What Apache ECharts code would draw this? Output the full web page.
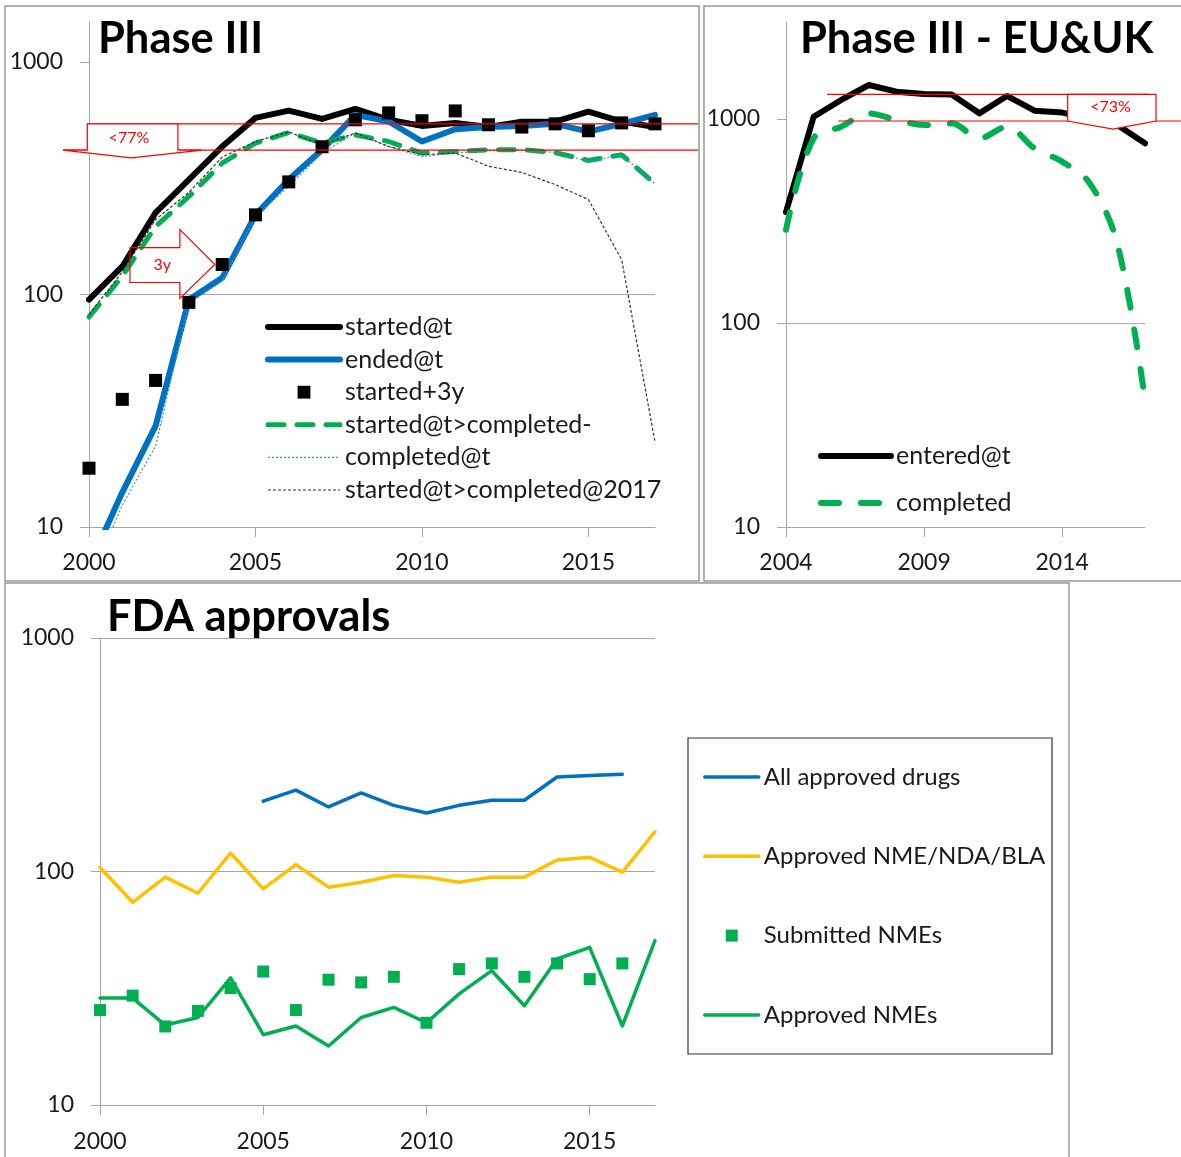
<!DOCTYPE html>
<html>
<head>
<meta charset="utf-8">
<script src="https://cdn.jsdelivr.net/npm/echarts@6/dist/echarts.min.js"></script>
<style>
  html, body { margin: 0; padding: 0; background: #fff; }
  #chart { width: 1181px; height: 1157px; }
</style>
</head>
<body>
<div id="chart"></div>
<script>
// ---- data: Phase III (all) ----
const years = [2000, 2001, 2002, 2003, 2004, 2005, 2006, 2007, 2008, 2009, 2010, 2011, 2012, 2013, 2014, 2015, 2016, 2017]
const startedAt = [95, 132, 225, 312, 433, 575, 618, 569, 628, 564, 531, 546, 525, 554, 554, 612, 554, 525]
const endedAt = [6.8, 14.1, 27.2, 95, 118, 220, 312, 419, 592, 555, 455, 514, 525, 531, 542, 502, 542, 592]
const startedPlus3y = [17.9, 35.4, 42.7, 92.5, 134.6, 220, 305, 432, 564, 604, 559, 616, 537, 525, 542, 506, 547, 542]
const startedCompleted = [80, 120, 196, 264, 367, 448, 497, 448, 486, 455, 406, 412, 419, 420, 408, 377, 399, 299]
const completedAt = [5.8, 12.4, 22.3, 92, 114, 217, 292, 406, 495, 433, 392, 406, 415, 418, 408, 373, 399, 299]
const completedBy2017 = [82, 125, 210, 275, 390, 455, 500, 440, 495, 433, 399, 406, 356, 335, 297, 256, 141, 23.2]

// ---- data: Phase III EU&UK ----
const euYears = [2004, 2005, 2006, 2007, 2008, 2009, 2010, 2011, 2012, 2013, 2014, 2015, 2016, 2017]
const euEntered = [350, 1026, 1240, 1468, 1361, 1325, 1320, 1066, 1297, 1099, 1075, 1010, 935, 760]
const euCompleted = [286, 804, 917, 1066, 989, 935, 952, 804, 917, 718, 618, 484, 244, 42]

// ---- data: FDA approvals ----
const allApproved = [null, null, null, null, null, 200, 223, 189, 217, 192, 178, 192, 202, 202, 254, 258, 261, null]
const approvedNdaBla = [104, 73.8, 94.6, 80.7, 120, 84.3, 107, 85.7, 90, 96.2, 94.6, 90, 94.6, 94.6, 112, 115, 99.3, 148]
const submittedNme = [25.5, 29.4, 21.7, 25.3, 31.7, 37.3, 25.5, 34.4, 33.5, 35.4, 22.5, 38.2, 40.4, 35.4, 40.4, 34.6, 40.4, null]
const approvedNme = [28.7, 28.7, 22, 23.7, 35, 20, 21.8, 17.9, 23.7, 26.2, 22.5, 29.9, 37.6, 26.6, 42.2, 47.3, 21.8, 50.6]

const logTicks = [10, 100, 1000]
const FONT = 'Lato, "Open Sans", sans-serif'
const GRID_COLOR = '#a6a6a6'
const RED = '#ff0000'

const pairs = (xs, ys) => xs.map((x, i) => [x, ys[i]])

function yLog(gridIndex, max, showMax) {
  return {
    type: 'log',
    logBase: 10,
    gridIndex,
    min: 10,
    max,
    axisLine: { show: true, lineStyle: { color: GRID_COLOR } },
    axisTick: { show: true, length: 9, customValues: logTicks, lineStyle: { color: GRID_COLOR } },
    axisLabel: {
      customValues: logTicks,
      formatter: v => String(Math.round(v)),
      color: '#1a1a1a',
      fontSize: 23,
      fontFamily: FONT,
      margin: 26
    },
    splitLine: {
      show: true,
      showMinLine: false,
      showMaxLine: showMax,
      lineStyle: { color: GRID_COLOR, width: 1 }
    }
  }
}

function xYears(gridIndex, min, max, ticks, margin) {
  return {
    type: 'value',
    gridIndex,
    min,
    max,
    axisLine: { show: true, onZero: false, lineStyle: { color: GRID_COLOR } },
    axisTick: { show: true, length: 10, customValues: ticks, lineStyle: { color: GRID_COLOR } },
    axisLabel: {
      customValues: ticks,
      formatter: v => String(v),
      color: '#1a1a1a',
      fontSize: 23,
      fontFamily: FONT,
      margin
    },
    splitLine: { show: false }
  }
}

function lineSeries(name, xi, yi, xs, ys, color, width, extra) {
  return Object.assign({
    name,
    type: 'line',
    xAxisIndex: xi,
    yAxisIndex: yi,
    data: pairs(xs, ys),
    symbol: 'none',
    itemStyle: { color, opacity: 0 },
    lineStyle: { color, width, cap: 'round', join: 'round' },
    emphasis: { disabled: true },
    animation: false
  }, extra || {})
}

function squareSeries(name, xi, yi, xs, ys, color, size) {
  return {
    name,
    type: 'line',
    xAxisIndex: xi,
    yAxisIndex: yi,
    data: pairs(xs, ys),
    symbol: 'rect',
    symbolSize: size,
    showAllSymbol: true,
    itemStyle: { color },
    lineStyle: { width: 0, opacity: 0 },
    z: 5,
    emphasis: { disabled: true },
    animation: false
  }
}

const legendText = { fontSize: 25, fontFamily: FONT, color: '#1a1a1a' }
const titleText = { fontSize: 43.5, fontWeight: 'bold', fontFamily: FONT, color: '#000' }

const chart = echarts.init(document.getElementById('chart'))

chart.setOption({
  backgroundColor: '#fff',
  animation: false,
  title: [
    { text: 'Phase III', left: 98, top: 17, padding: 0, textStyle: titleText },
    { text: 'Phase III - EU&UK', left: 800, top: 17, padding: 0, textStyle: titleText },
    { text: 'FDA approvals', left: 107, top: 595, padding: 0, textStyle: titleText }
  ],
  grid: [
    { left: 89, top: 22, width: 566, height: 505 },
    { left: 786, top: 22, width: 359, height: 505 },
    { left: 100, top: 638, width: 555, height: 467 }
  ],
  xAxis: [
    xYears(0, 2000, 2017, [2000, 2005, 2010, 2015], 24),
    xYears(1, 2004, 2017, [2004, 2009, 2014], 24),
    xYears(2, 2000, 2017, [2000, 2005, 2010, 2015], 25)
  ],
  yAxis: [
    yLog(0, 1486, false),
    yLog(1, 2989, false),
    yLog(2, 1000, true)
  ],
  legend: [
    {
      data: ['started@t', 'ended@t', 'started+3y', 'started@t>completed-', 'completed@t', 'started@t>completed@2017'],
      orient: 'vertical', left: 265, top: 314.5, padding: 0,
      itemWidth: 72, itemHeight: 16, itemGap: 7.6,
      textStyle: legendText,
      lineStyle: { width: 'inherit' },
      selectedMode: false
    },
    {
      data: ['entered@t', 'completed'],
      orient: 'vertical', left: 818, top: 443.5, padding: 0,
      itemWidth: 70, itemHeight: 16, itemGap: 22,
      textStyle: legendText,
      lineStyle: { width: 'inherit' },
      selectedMode: false
    },
    {
      data: ['All approved drugs', 'Approved NME/NDA/BLA', 'Submitted NMEs', 'Approved NMEs'],
      orient: 'vertical', left: 703, top: 765, padding: 0,
      itemWidth: 54, itemHeight: 15, itemGap: 55.3,
      textStyle: Object.assign({}, legendText, { fontSize: 24 }),
      lineStyle: { width: 'inherit' },
      selectedMode: false
    }
  ],
  series: [
    lineSeries('started@t', 0, 0, years, startedAt, '#000000', 6),
    lineSeries('ended@t', 0, 0, years, endedAt, '#0070c0', 6),
    squareSeries('started+3y', 0, 0, years, startedPlus3y, '#000000', 13),
    lineSeries('started@t>completed-', 0, 0, years, startedCompleted, '#00b050', 5,
      { lineStyle: { color: '#00b050', width: 5, type: [16, 13], cap: 'round' } }),
    lineSeries('completed@t', 0, 0, years, completedAt, '#3a8fd8', 1.2,
      { lineStyle: { color: '#3a8fd8', width: 1.2, type: [2, 2] } }),
    lineSeries('started@t>completed@2017', 0, 0, years, completedBy2017, '#333333', 1.2,
      { lineStyle: { color: '#333333', width: 1.2, type: [3, 2] } }),

    lineSeries('entered@t', 1, 1, euYears, euEntered, '#000000', 6),
    lineSeries('completed', 1, 1, euYears, euCompleted, '#00b050', 6,
      { smooth: 0.35, lineStyle: { color: '#00b050', width: 6, type: [18, 22], cap: 'round' } }),

    lineSeries('All approved drugs', 2, 2, years, allApproved, '#0070c0', 3.5),
    lineSeries('Approved NME/NDA/BLA', 2, 2, years, approvedNdaBla, '#ffc000', 3.5),
    squareSeries('Submitted NMEs', 2, 2, years, submittedNme, '#00b050', 12),
    lineSeries('Approved NMEs', 2, 2, years, approvedNme, '#00b050', 3.5)
  ]
})

// ---- annotations, anchored in data space ----
const P = (g, x, y) => chart.convertToPixel({ gridIndex: g }, [x, y])
const poly = (pts, fill) => ({
  type: 'polygon', z: 100,
  shape: { points: pts },
  style: { fill: fill || 'transparent', stroke: RED, lineWidth: 1.2 }
})
const seg = (a, b) => ({
  type: 'line', z: 99,
  shape: { x1: a[0], y1: a[1], x2: b[0], y2: b[1] },
  style: { stroke: RED, lineWidth: 1.2 }
})
const label = (pt, text) => ({
  type: 'text', z: 101, x: pt[0], y: pt[1],
  style: { text, fill: RED, fontSize: 16, fontFamily: FONT, align: 'center', verticalAlign: 'middle' }
})

const graphics = []

// panel borders
;[[5, 6, 694, 575], [704, 6, 490, 575], [5, 583, 1064, 590]].forEach(r => {
  graphics.push({
    type: 'rect', z: 0, silent: true,
    shape: { x: r[0], y: r[1], width: r[2], height: r[3] },
    style: { fill: 'transparent', stroke: '#999999', lineWidth: 1.5 }
  })
})

// panel 1: <77% band
graphics.push(seg(P(0, 1999.95, 542), P(0, 2018.3, 542)))
graphics.push(seg(P(0, 1999.22, 418), P(0, 2018.3, 418)))
graphics.push(poly([
  P(0, 1999.95, 542), P(0, 2002.67, 542), P(0, 2002.67, 418), P(0, 2003.39, 418),
  P(0, 2001.27, 387), P(0, 1999.22, 418), P(0, 1999.95, 418)
], '#fff'))
graphics.push(label(P(0, 2001.2, 470), '<77%'))

// panel 1: 3y shift arrow
graphics.push(poly([
  P(0, 2001.23, 159), P(0, 2002.73, 159), P(0, 2002.73, 190), P(0, 2003.78, 134.6),
  P(0, 2002.73, 96.2), P(0, 2002.73, 112.6), P(0, 2001.23, 112.6)
]))
graphics.push(label(P(0, 2002.2, 134.6), '3y'))

// panel 2: <73% band
graphics.push(seg(P(1, 2005.49, 1320), P(1, 2017.1, 1320)))
graphics.push(seg(P(1, 2005.89, 978), P(1, 2018.3, 978)))
graphics.push(poly([
  P(1, 2014.2, 1320), P(1, 2017.4, 1320), P(1, 2017.4, 978),
  P(1, 2015.84, 893), P(1, 2014.2, 978)
], '#fff'))
graphics.push(label(P(1, 2015.75, 1145), '<73%'))

// panel 3: legend frame
graphics.push({
  type: 'rect', z: 0, silent: true,
  shape: { x: 688, y: 738, width: 364, height: 316 },
  style: { fill: 'transparent', stroke: '#333333', lineWidth: 1.2 }
})

chart.setOption({ graphic: graphics })

window.addEventListener('resize', () => chart.resize())
</script>
</body>
</html>
